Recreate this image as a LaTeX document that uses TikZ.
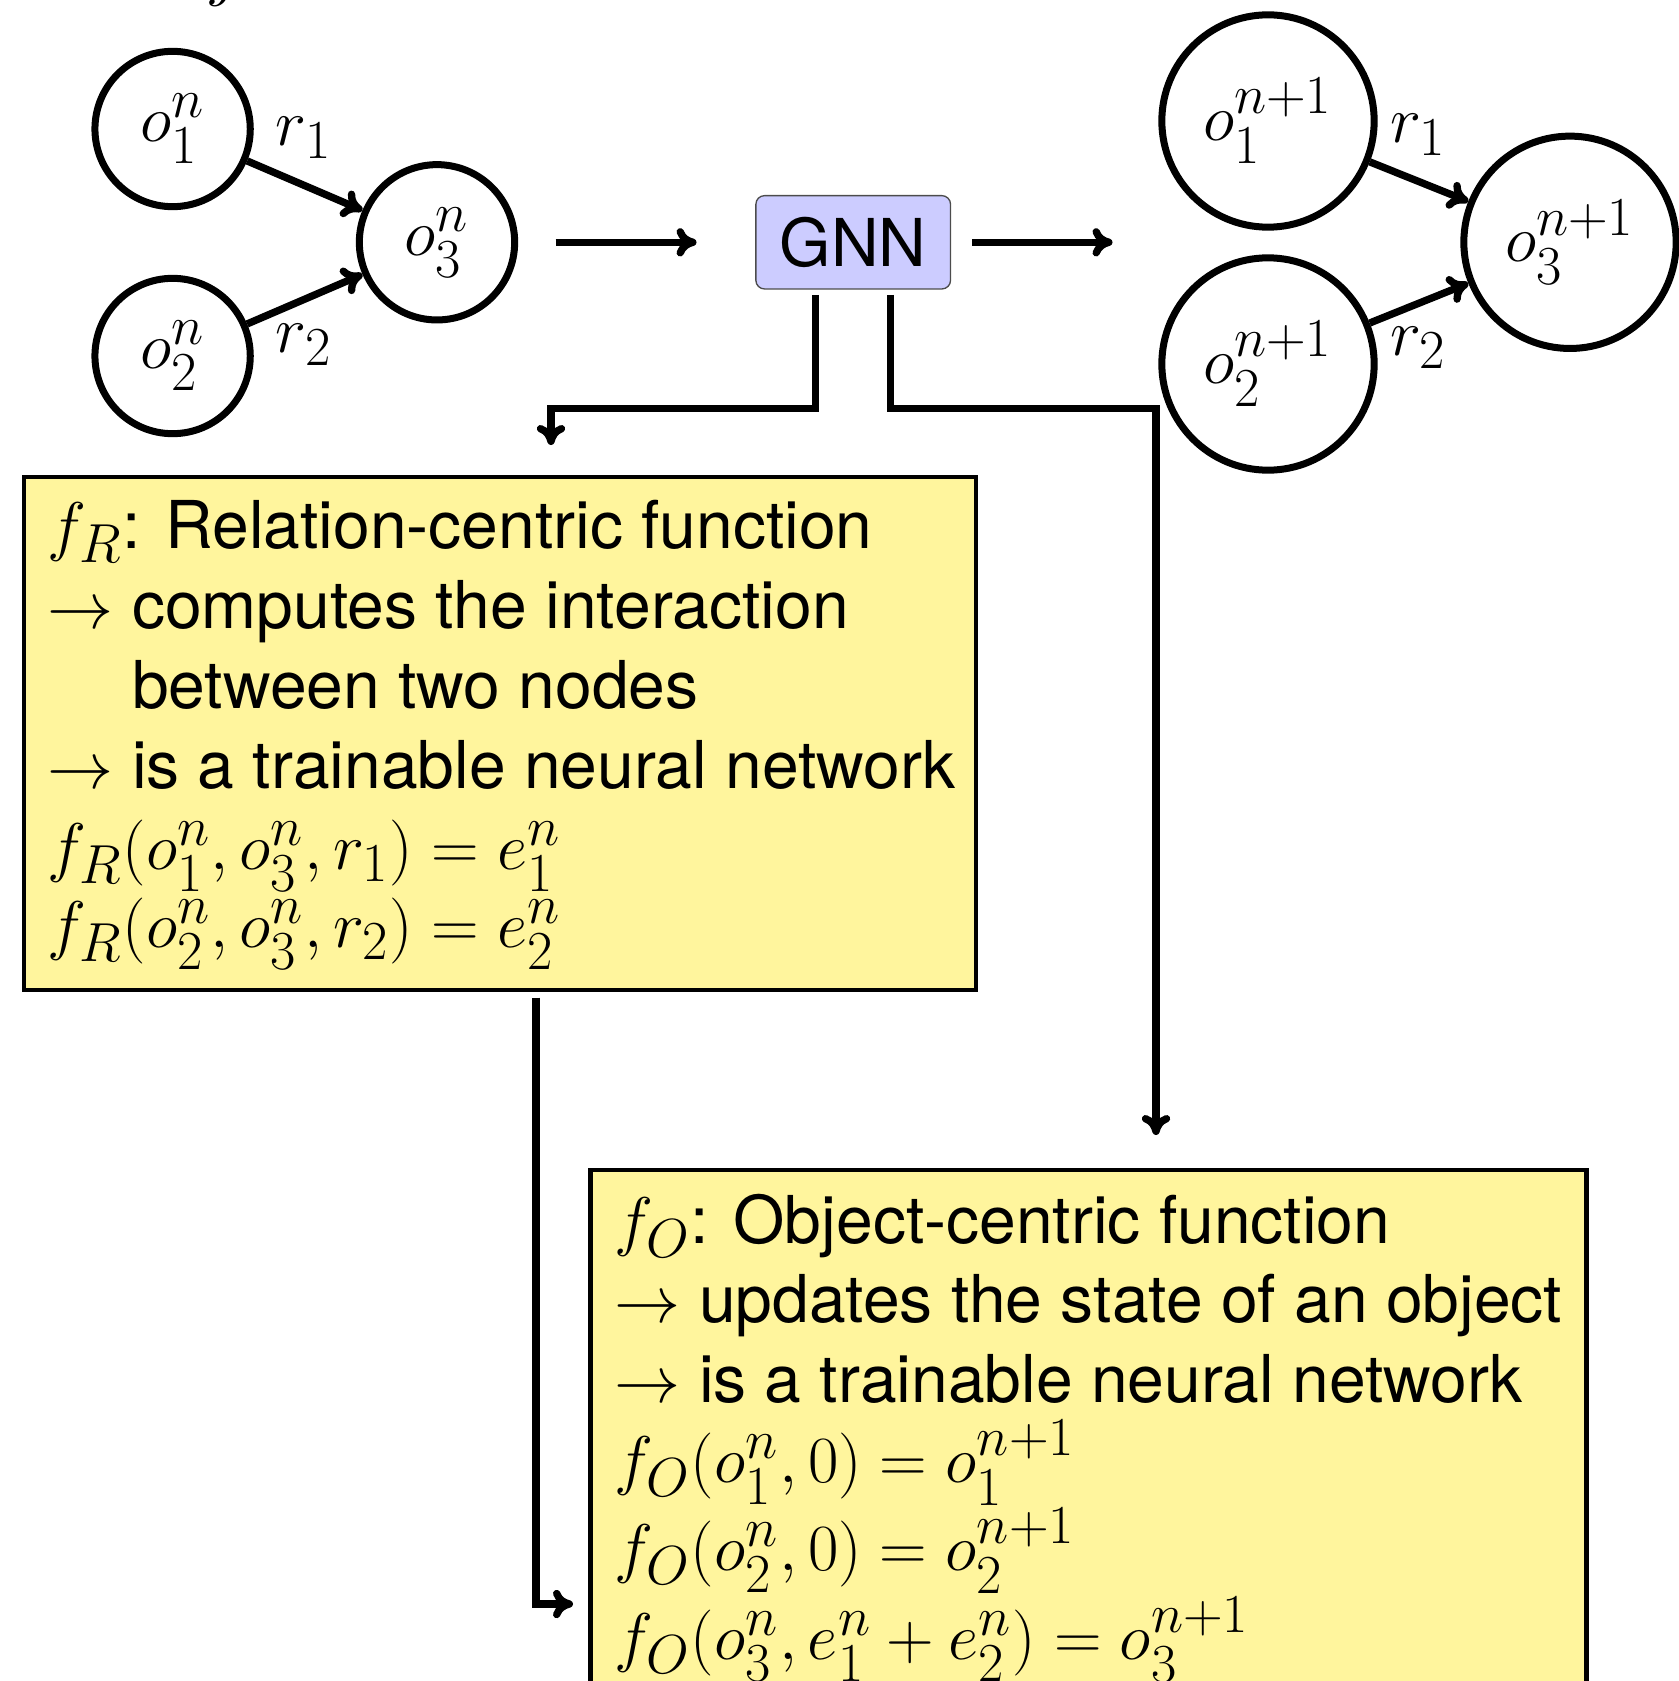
\documentclass[tikz,border=0pt]{standalone}
\usepackage[no-math]{fontspec}
\setmainfont{TeX Gyre Heros}
% scalable Computer Modern for math at large sizes
\DeclareFontShape{OT1}{cmr}{m}{n}{<-14> cmr12 <14-> cmr17}{}
\DeclareFontShape{OML}{cmm}{m}{it}{<-> cmmi12}{}
\DeclareFontShape{OMS}{cmsy}{m}{n}{<-> cmsy10}{}
\DeclareFontShape{OMX}{cmex}{m}{n}{<-> cmex10}{}
\DeclareMathSizes{19.8}{19.8}{16.5}{13.7}
\usetikzlibrary{arrows.meta}
\definecolor{notefill}{RGB}{255,245,157}
\definecolor{gnnfill}{RGB}{204,204,255}
\begin{document}
\begin{tikzpicture}[x=0.3pt,y=-0.3pt,
  every node/.style={font=\fontsize{19.8}{24}\selectfont},
  obj/.style={circle,draw,line width=2.1pt,inner sep=0pt,minimum size=46.6pt},
  objbig/.style={obj,minimum size=63.7pt},
  arr/.style={line width=2.2pt,-{Computer Modern Rightarrow[length=6pt,width=8.5pt]}},
  note/.style={draw,line width=1.3pt,fill=notefill,inner sep=0pt},
  txtline/.style={anchor=base west,inner sep=0pt},
  rel/.style={inner sep=0pt}]
\useasboundingbox (0,0) rectangle (1679,1681);
\clip (0,0) rectangle (1679,1681);

% tail of a letter from the line above
\node[inner sep=0pt,anchor=base] (jtop) at (226,-6) {$j$};

% graph at step n
\node[obj] (o1) at (172.6,129) {$o_1^n$};
\node[obj] (o2) at (172.6,356) {$o_2^n$};
\node[obj] (o3) at (437,242.3) {$o_3^n$};
\draw[arr] (o1) -- (o3);
\draw[arr] (o2) -- (o3);
\node[rel] (r1) at (304,138) {$r_1$};
\node[rel] (r2) at (304,345) {$r_2$};

% graph network block
\node[draw=black!70,line width=0.4pt,fill=gnnfill,rounded corners=2.6pt,
      minimum width=58.4pt,minimum height=28pt,inner sep=0pt] (GNN) at (853.2,242.3) {GNN};
\draw[arr,shorten <=11.2pt,shorten >=17.6pt] (o3) -- (GNN);
\coordinate (out) at (1112.5,242.3);
\draw[arr,shorten <=6.3pt] (GNN) -- (out);

% graph at step n+1
\node[objbig] (p1) at (1268,121) {$o_1^{n+1}$};
\node[objbig] (p2) at (1268,364) {$o_2^{n+1}$};
\node[objbig] (p3) at (1570,242.3) {$o_3^{n+1}$};
\draw[arr] (p1) -- (p3);
\draw[arr] (p2) -- (p3);
\node[rel] (q1) at (1418.5,135) {$r_1$};
\node[rel] (q2) at (1418.5,348) {$r_2$};

% relation-centric function
\node[note,minimum width=285.6pt,minimum height=153.9pt] (fR) at (500,733.5) {};
\node[txtline] (fR1) at (47,548) {$f_R$: Relation-centric function};
\node[txtline] (fR2) at (47,628) {$\rightarrow$ computes the interaction};
\node[txtline] (fR3) at (47,708) {\phantom{$\rightarrow$} between two nodes};
\node[txtline] (fR4) at (47,788) {$\rightarrow$ is a trainable neural network};
\node[txtline] (fR5) at (47,869) {$f_R(o_1^n, o_3^n, r_1) = e_1^n$};
\node[txtline] (fR6) at (47,947) {$f_R(o_2^n, o_3^n, r_2) = e_2^n$};

% object-centric function
\node[note,minimum width=298.8pt,minimum height=165pt] (fO) at (1088.5,1445) {};
\node[txtline] (fO1) at (614,1243) {$f_O$: Object-centric function};
\node[txtline] (fO2) at (614,1322) {$\rightarrow$ updates the state of an object};
\node[txtline] (fO3) at (614,1402) {$\rightarrow$ is a trainable neural network};
\node[txtline] (fO4) at (614,1482) {$f_O(o_1^n, 0) = o_1^{n+1}$};
\node[txtline] (fO5) at (614,1570) {$f_O(o_2^n, 0) = o_2^{n+1}$};
\node[txtline] (fO6) at (614,1659) {$f_O(o_3^n, e_1^n + e_2^n) = o_3^{n+1}$};

% routing from the GNN block to the two functions
\coordinate (kR) at (551,408.7);
\coordinate (tipR) at (551,445);
\coordinate (kO) at (1156,408.7);
\coordinate (tipO) at (1156,1135);
\coordinate (tipF) at (573,1604);
\draw[arr,shorten <=1.6pt] ([xshift=-11.25pt]GNN.south) |- (kR) -- (tipR);
\draw[arr,shorten <=1.6pt] ([xshift=11.25pt]GNN.south) |- (kO) -- (tipO);
\draw[arr,shorten <=1.6pt] ([xshift=10.8pt]fR.south) |- (tipF);
\end{tikzpicture}
\end{document}
